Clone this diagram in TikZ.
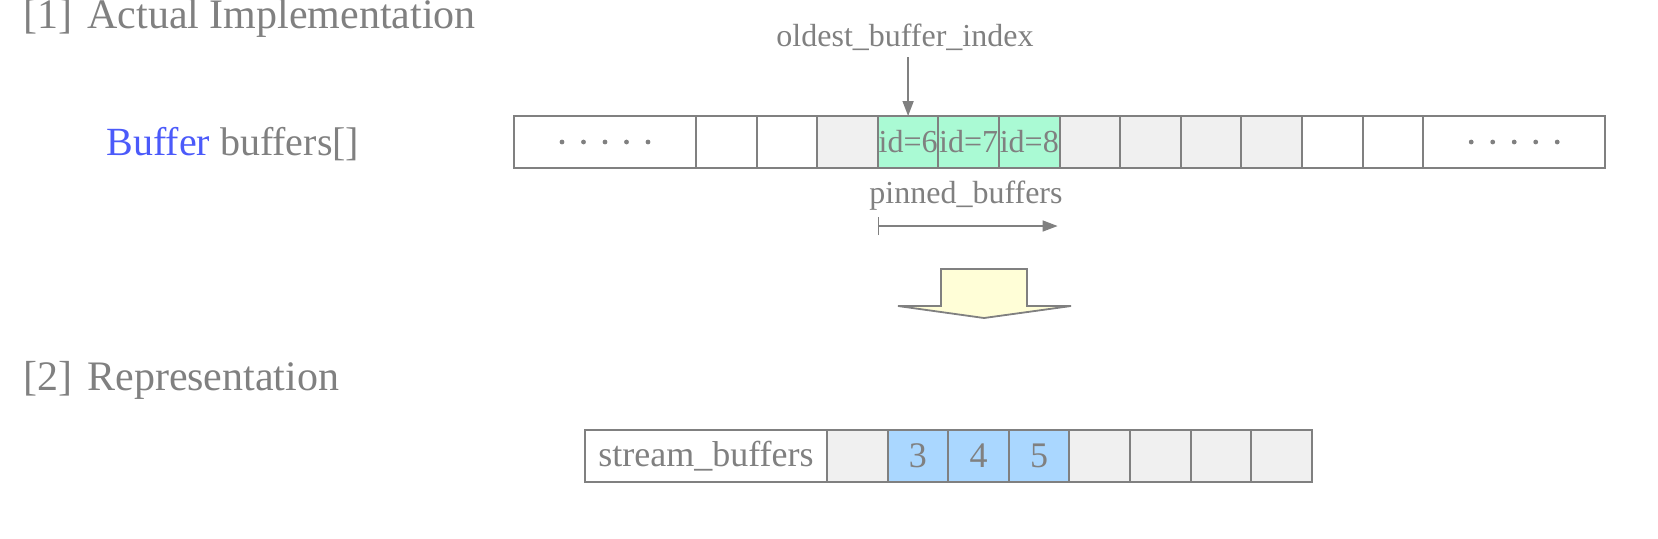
\documentclass[tikz,border=0pt]{standalone}
\usepackage{fontspec}
\setmainfont{Liberation Serif}
\usetikzlibrary{positioning,arrows.meta}

\definecolor{linegray}{RGB}{128,128,128}
\definecolor{cellgray}{RGB}{240,240,240}
\definecolor{pinnedgreen}{RGB}{170,250,212}
\definecolor{streamblue}{RGB}{170,215,255}
\definecolor{arrowyellow}{RGB}{255,254,215}
\definecolor{typeblue}{RGB}{75,90,250}

\tikzset{
	cell/.style={draw=linegray,line width=1pt,minimum width=30.3pt,minimum height=26pt,
		inner sep=0pt,outer sep=0pt,text=linegray,font=\fontsize{16}{18}\selectfont},
	longcell/.style={cell,minimum width=91pt},
	headtext/.style={text=linegray,font=\fontsize{21}{24}\selectfont,anchor=base west,inner sep=0pt},
	smalltext/.style={text=linegray,font=\fontsize{16}{18}\selectfont,anchor=base},
	pointer/.style={draw=linegray,line width=0.8pt,-{Triangle[length=7.5pt,width=5.5pt]}}
}

\begin{document}
\begin{tikzpicture}[x=0.5pt,y=-0.5pt]
\useasboundingbox (0,0) rectangle (1658,538);

% judul
\node[headtext] (head1) at (23,28) {[1]\hspace{7.5pt}Actual Implementation};
\node[headtext] (head2) at (23,390) {[2]\hspace{7.5pt}Representation};

% array buffers
\node[text=linegray,font=\fontsize{20}{22}\selectfont,anchor=base west,inner sep=0pt] (arrname) at (106,155) {\textcolor{typeblue}{Buffer} buffers[]};

\node[longcell,anchor=west] (t0) at (514,142) {};
\foreach \i/\c/\t [remember=\i as \j (initially 0)] in {1/white/,2/white/,3/cellgray/,4/pinnedgreen/id=6,5/pinnedgreen/id=7,6/pinnedgreen/id=8,7/cellgray/,8/cellgray/,9/cellgray/,10/cellgray/,11/white/,12/white/}
	\node[cell,fill=\c,right=0pt of t\j] (t\i) {\t};
\node[longcell,right=0pt of t12] (t13) {};

% titik-titik
\foreach \k in {-2,...,2}
	{
	\fill[linegray] (t0.center) ++(\k*21.5,0) circle (1.2pt);
	\fill[linegray] (t13.center) ++(\k*21.5,0) circle (1.2pt);
	}

% oldest_buffer_index
\node[smalltext] (oldest) at (905,46) {oldest\_buffer\_index};
\draw[pointer] (t4.north |- oldest.south) -- (t4.north);

% pinned_buffers
\node[smalltext] (pinned) at (966,203) {pinned\_buffers};
\coordinate (pinA) at ([yshift=-29pt]t4.south west);
\coordinate (pinB) at ([yshift=-29pt,xshift=-1pt]t6.south east);
\draw[pointer,{Bar[width=9pt]}-{Triangle[length=7.5pt,width=5.5pt]}] (pinA) -- (pinB);

% panah besar
\filldraw[fill=arrowyellow,draw=linegray,line width=0.9pt,line join=miter]
	(941,269) -- (1027,269) -- (1027,306) -- (1071,306) -- (984,318) -- (898,306) -- (941,306) -- cycle;

% stream_buffers
\node[cell,minimum width=121pt,anchor=west,font=\fontsize{18}{20}\selectfont] (b0) at (585,456) {stream\_buffers};
\foreach \i/\c/\t [remember=\i as \j (initially 0)] in {1/cellgray/,2/streamblue/3,3/streamblue/4,4/streamblue/5,5/cellgray/,6/cellgray/,7/cellgray/,8/cellgray/}
	\node[cell,fill=\c,font=\fontsize{18}{20}\selectfont,right=0pt of b\j] (b\i) {\t};

\end{tikzpicture}
\end{document}
